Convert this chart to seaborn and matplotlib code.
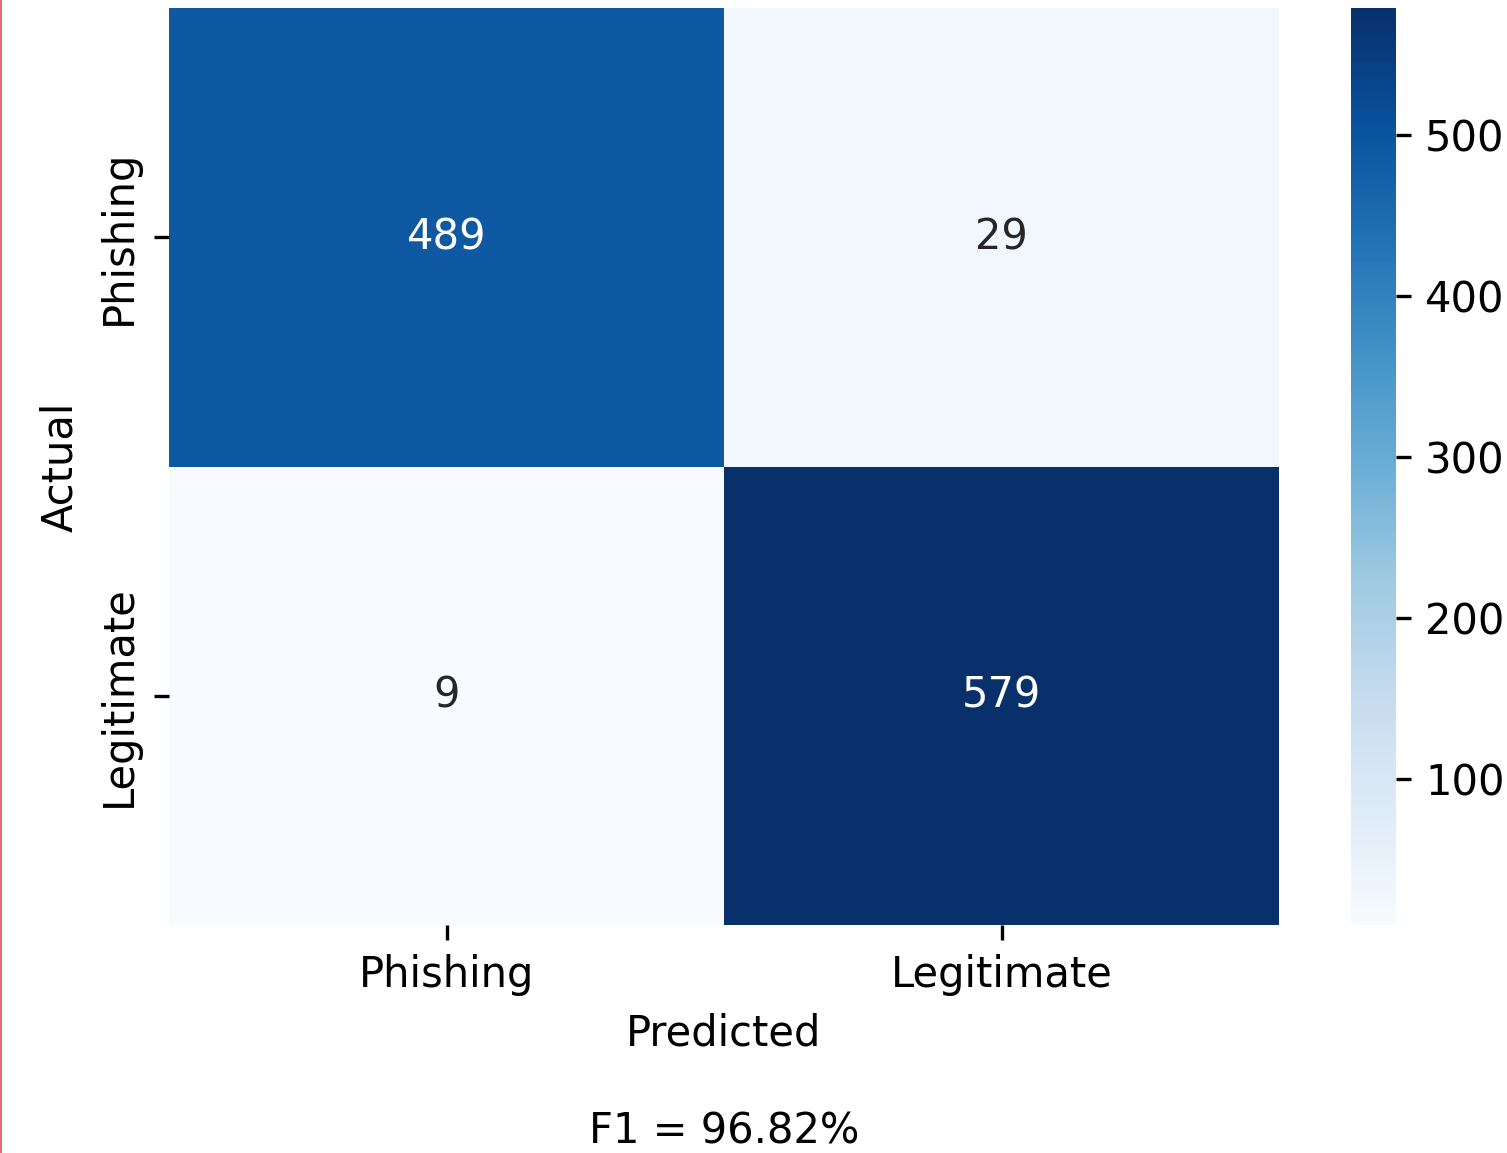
import numpy as np
import pandas as pd
import matplotlib
matplotlib.use('Agg')
import matplotlib.pyplot as plt
from matplotlib.lines import Line2D
import seaborn as sns

labels = ['Phishing', 'Legitimate']
row_phishing = [489, 29]
row_legitimate = [9, 579]
f1_score = 96.82

cm = pd.DataFrame([row_phishing, row_legitimate], index=labels, columns=labels)

fig = plt.figure(figsize=(1507 / 300, 1153 / 300), dpi=300)
ax = fig.add_axes([169 / 1507, 1 - 925 / 1153, 1110 / 1507, 917 / 1153])
cax = fig.add_axes([1351 / 1507, 1 - 925 / 1153, 45 / 1507, 917 / 1153])

sns.heatmap(cm, annot=True, fmt='d', cmap='Blues', ax=ax, cbar_ax=cax)
ax.set_xlabel('Predicted\n\nF1 = %.2f%%' % f1_score)
ax.set_ylabel('Actual')

# thin red border line at the left edge of the capture
fig.add_artist(Line2D([0.0007, 0.0007], [0, 1], color='#e0505a', lw=0.4,
                      transform=fig.transFigure))

fig.savefig('out.png', dpi=300)
